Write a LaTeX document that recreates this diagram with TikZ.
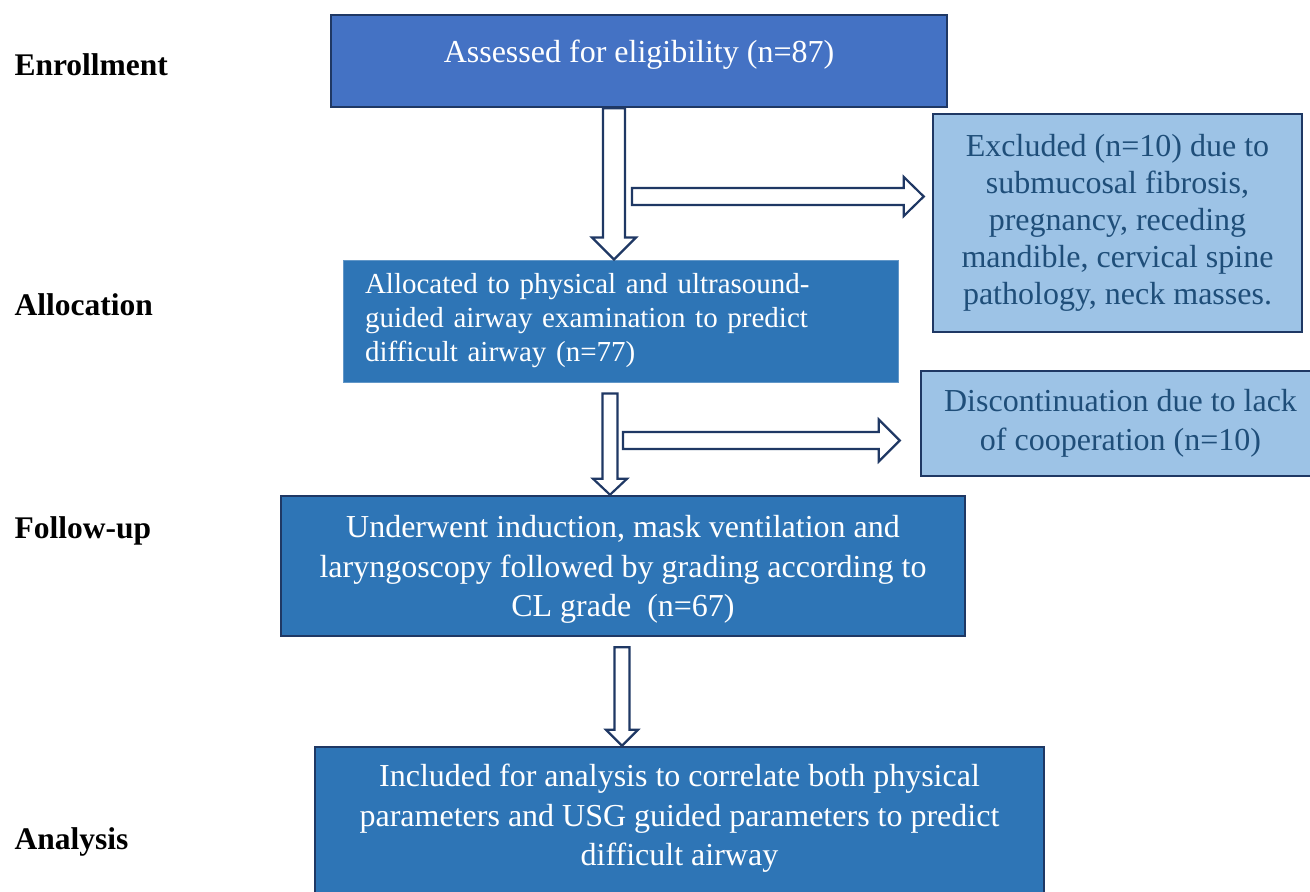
\documentclass[tikz,border=0pt]{standalone}
\usepackage{fontspec}
\setmainfont{Liberation Serif}
\usetikzlibrary{calc}

\definecolor{navy}{HTML}{1F3864}
\definecolor{midblue}{HTML}{4472C4}
\definecolor{deepblue}{HTML}{2E75B6}
\definecolor{paleblue}{HTML}{9DC3E6}
\definecolor{inkblue}{HTML}{1F4E79}

% hollow block arrows: from, to, shaft half width, head half width, head length
\newcommand{\hollowdown}[5]{%
  \draw[hollow] let \p1=(#1), \p2=(#2) in
    (\x1-#3,\y1) -- (\x1+#3,\y1) -- (\x1+#3,\y2+#5) -- (\x1+#4,\y2+#5)
    -- (\x1,\y2) -- (\x1-#4,\y2+#5) -- (\x1-#3,\y2+#5) -- cycle;}
\newcommand{\hollowright}[5]{%
  \draw[hollow] let \p1=(#1), \p2=(#2) in
    (\x1,\y1+#3) -- (\x2-#5,\y1+#3) -- (\x2-#5,\y1+#4) -- (\x2,\y1)
    -- (\x2-#5,\y1-#4) -- (\x2-#5,\y1-#3) -- (\x1,\y1-#3) -- cycle;}

\begin{document}
\begin{tikzpicture}[
    x=1pt, y=-1pt,
    box/.style={draw=navy, line width=2.5pt, fill=deepblue, text=white, align=center,
      inner sep=0pt, font=\fontsize{32}{39.5}\selectfont},
    side/.style={box, fill=paleblue, text=inkblue},
    phase/.style={anchor=base west, font=\fontsize{31.5}{38}\selectfont\bfseries},
    hollow/.style={draw=navy, line width=2.2pt, fill=white, line join=miter},
  ]
    \useasboundingbox[fill=white] (0,0) rectangle (1310,892);

    % Phase labels
    \node[phase] (enrol) at (11,75) {Enrollment};
    \node[phase] (alloclab) at (11,315) {Allocation};
    \node[phase] (followlab) at (11,538) {Follow-up};
    \node[phase] (analab) at (11,849) {Analysis};

    % Main flow
    \node[box, fill=midblue, minimum width=616pt, minimum height=92pt,
      text height=22pt, text depth=20pt] (assess) at (639,61) {Assessed for eligibility (n=87)};
    \node[box, draw=deepblue!75!white, line width=1pt, align=left, minimum width=555pt,
      minimum height=122pt, inner xsep=22pt, text width=511pt,
      font=\fontsize{29}{34}\selectfont] (alloc) at (620.5,321)
      {Allocated to physical and ultrasound-\\guided airway examination to predict\\difficult airway (n=77)};
    \node[box, minimum width=684pt, minimum height=140pt, text depth=0pt] (follow) at (623,566)
      {Underwent induction, mask ventilation and\\laryngoscopy followed by grading according to\\CL grade~~(n=67)};
    \node[box, minimum width=729pt, minimum height=160pt, text depth=24pt] (analysis) at (679.5,827)
      {Included for analysis to correlate both physical\\parameters and USG guided parameters to predict\\difficult airway};

    % Side boxes
    \node[side, minimum width=369pt, minimum height=218pt, font=\fontsize{32}{37}\selectfont]
      (excl) at (1117.5,223)
      {Excluded (n=10) due to\\submucosal fibrosis,\\pregnancy, receding\\mandible, cervical spine\\pathology, neck masses.};
    \node[side, minimum width=399pt, minimum height=105pt] (disc) at (1120.5,423.5)
      {Discontinuation due to lack\\of cooperation (n=10)};

    % Arrows
    \coordinate (v1a) at ($(assess.south)+(-25,0)$);
    \hollowdown{v1a}{alloc.north -| v1a}{11pt}{22pt}{22pt}
    \coordinate (h1a) at (632,196.5);
    \hollowright{h1a}{$(excl.west |- h1a)+(-8,0)$}{8.5pt}{19.5pt}{20pt}

    \coordinate (v2a) at ($(alloc.south)+(-10.5,11)$);
    \hollowdown{v2a}{follow.north -| v2a}{7.5pt}{17pt}{16pt}
    \coordinate (h2a) at (623,440.5);
    \hollowright{h2a}{$(disc.west |- h2a)+(-20,0)$}{8.5pt}{21pt}{21pt}

    \coordinate (v3a) at ($(follow.south)+(-1,10)$);
    \hollowdown{v3a}{analysis.north -| v3a}{7.5pt}{16pt}{16pt}
\end{tikzpicture}
\end{document}
